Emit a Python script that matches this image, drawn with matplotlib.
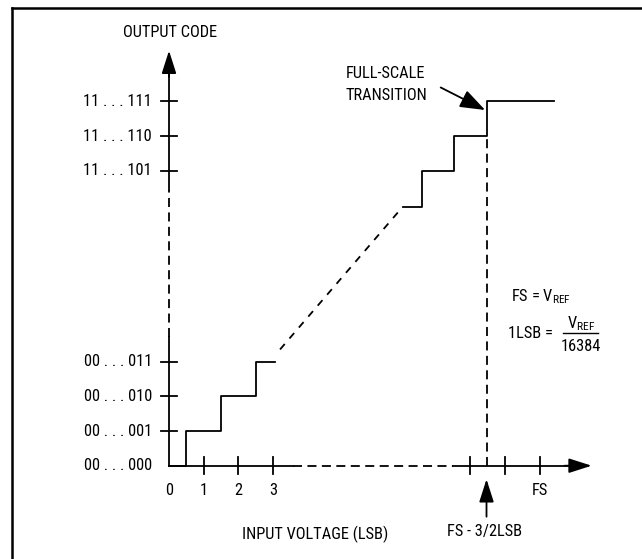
import matplotlib
matplotlib.use("Agg")
import matplotlib.pyplot as plt
from matplotlib import font_manager
from matplotlib.lines import Line2D

# pick a narrow grotesque close to Helvetica Condensed
installed = {f.name for f in font_manager.fontManager.ttflist}
wanted = ['Liberation Sans Narrow', 'Roboto Condensed', 'Archivo Narrow', 'PT Sans Narrow',
          'Sofia Sans Condensed', 'IBM Plex Sans Condensed', 'Encode Sans Condensed',
          'Barlow Condensed', 'DejaVu Sans Condensed']
narrow = next((n for n in wanted if n in installed), 'DejaVu Sans')
plt.rcParams['font.family'] = [narrow, 'DejaVu Sans']
plt.rcParams['mathtext.fontset'] = 'custom'
plt.rcParams['mathtext.rm'] = narrow

# everything in LSB units, origin at code 00...000 / 0 V
FS = 10.68

low_levels = [0, 1, 2, 3]
low_codes = ['00 . . . 000', '00 . . . 001', '00 . . . 010', '00 . . . 011']
high_levels = [8.5, 9.5, 10.5]
high_codes = ['11 . . . 101', '11 . . . 110', '11 . . . 111']

x_ticks = [1, 2, 3]
x_tick_labels = ['1', '2', '3']
fs_ticks = [FS - 2, FS - 1, FS]

# transfer staircase near zero scale
low_step_x = [0, 0.5, 0.5, 1.5, 1.5, 2.5, 2.5, 3.05]
low_step_y = [0, 0, 1, 1, 2, 2, 3, 3]
# transfer staircase near full scale
high_step_x = [6.75, 7.3, 7.3, 8.22, 8.22, 9.15, 9.15, 11.1]
high_step_y = [7.45, 7.45, 8.5, 8.5, 9.5, 9.5, 10.5, 10.5]
# dashed link between them
link_x = [3.2, 6.7]
link_y = [3.35, 7.42]

fs_trans = 9.15  # FS - 3/2 LSB

fig = plt.figure(figsize=(6.42, 5.59), dpi=100)
ax = fig.add_axes([0, 0, 1, 1])
s = 34.7
ax.set_xlim(-169 / s, (642 - 169) / s)
ax.set_ylim(-(559 - 465.7) / s, 465.7 / s)
ax.axis('off')

fsz = 11.8
lw = 1.3
dash = (0, (5, 3))
arrow = dict(arrowstyle='-|>,head_length=1.0,head_width=0.32', mutation_scale=14,
             lw=lw, color='black', shrinkA=0, shrinkB=0)

# y axis
ax.plot([0, 0], [0, 3.72], color='black', lw=lw)
ax.plot([0, 0], [3.72, 7.95], color='black', lw=lw, linestyle=dash)
ax.plot([0, 0], [7.95, 11.3], color='black', lw=lw)
ax.annotate('', xy=(0, 11.96), xytext=(0, 11.2), arrowprops=arrow)

# x axis
ax.plot([0, 3.58], [0, 0], color='black', lw=lw)
ax.plot([3.58, 8.18], [0, 0], color='black', lw=lw, linestyle=dash)
ax.plot([8.18, 11.5], [0, 0], color='black', lw=lw)
ax.annotate('', xy=(12.18, 0), xytext=(11.4, 0), arrowprops=arrow)

# ticks and labels
for lvl in low_levels[1:] + high_levels:
    ax.plot([-0.23, 0.23], [lvl, lvl], color='black', lw=lw)
for lvl, lab in zip(low_levels + high_levels, low_codes + high_codes):
    ax.text(-0.49, lvl, lab, ha='right', va='center', fontsize=fsz)

for xv, lab in zip(x_ticks, x_tick_labels):
    ax.plot([xv, xv], [-0.25, 0.25], color='black', lw=lw)
    ax.text(xv, -0.72, lab, ha='center', va='center', fontsize=fsz)
ax.text(0, -0.72, '0', ha='center', va='center', fontsize=fsz)
for xv in fs_ticks:
    ax.plot([xv, xv], [-0.25, 0.25], color='black', lw=lw)
ax.text(FS, -0.72, 'FS', ha='center', va='center', fontsize=fsz)

# transfer curve
ax.plot(low_step_x, low_step_y, color='black', lw=lw)
ax.plot(high_step_x, high_step_y, color='black', lw=lw)
ax.plot(link_x, link_y, color='black', lw=lw, linestyle=(0, (4, 4)))
ax.plot([fs_trans, fs_trans], [0, 9.5], color='black', lw=lw, linestyle=dash)

# annotations
ax.annotate('', xy=(fs_trans, -0.39), xytext=(fs_trans, -1.47), arrowprops=arrow)
ax.text(9.08, -1.9, 'FS - 3/2LSB', ha='center', va='center', fontsize=fsz)
ax.text(4.21, -1.97, 'INPUT VOLTAGE (LSB)', ha='center', va='center', fontsize=fsz)
ax.text(0.03, 12.47, 'OUTPUT CODE', ha='center', va='center', fontsize=fsz)

ax.annotate('', xy=(9.11, 10.25), xytext=(7.83, 10.9),
            arrowprops=dict(arrow, arrowstyle='-|>,head_length=1.1,head_width=0.4'))
ax.text(5.1, 11.29, 'FULL-SCALE', ha='left', va='center', fontsize=fsz)
ax.text(5.1, 10.68, 'TRANSITION', ha='left', va='center', fontsize=fsz)

ax.text(9.87, 4.87, r'FS = V$_\mathregular{REF}$', ha='left', va='center', fontsize=fsz)
ax.text(9.76, 3.82, '1LSB =', ha='left', va='center', fontsize=fsz)
ax.text(11.87, 4.08, r'V$_\mathregular{REF}$', ha='center', va='center', fontsize=fsz)
ax.plot([11.35, 12.36], [3.82, 3.82], color='black', lw=1.0)
ax.text(11.87, 3.43, '16384', ha='center', va='center', fontsize=fsz)

# frame (top and left edges visible)
fig.add_artist(Line2D([12 / 642, 12 / 642], [0, 1 - 8 / 559], transform=fig.transFigure,
                      color='black', lw=1.8))
fig.add_artist(Line2D([12 / 642, 1], [1 - 8 / 559, 1 - 8 / 559], transform=fig.transFigure,
                      color='black', lw=1.8))

fig.savefig('out.png', dpi=100)
